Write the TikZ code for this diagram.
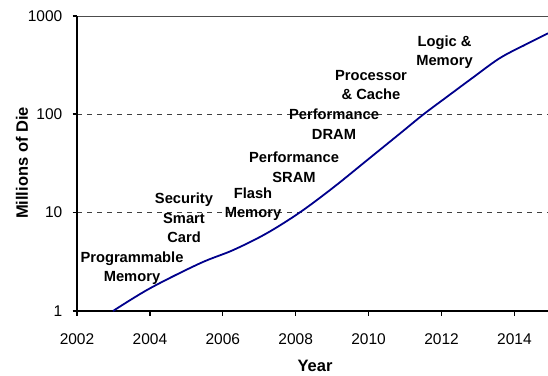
\documentclass[tikz,border=0pt]{standalone}
\usepackage{fontspec}
\setmainfont{Liberation Sans}
\begin{document}
\begin{tikzpicture}[x=1pt,y=-1pt,
  ticklab/.style={font=\fontsize{15.5}{18}\selectfont, inner sep=0pt},
  lbl/.style={font=\fontsize{14.7}{19.5}\selectfont\bfseries, align=center, inner sep=0pt},
  axtitle/.style={font=\fontsize{16.5}{19}\selectfont\bfseries, inner sep=0pt},
  grid/.style={draw=black!75, line width=0.9pt, dash pattern=on 5pt off 5pt},
  axis/.style={draw=black, line width=1.3pt},
  curve/.style={draw={rgb,255:red,0;green,0;blue,140}, line width=1.8pt}]
\useasboundingbox (0,0) rectangle (548,375);
% gridlines
\draw[draw=black!70, line width=1pt] (77,16) -- (548,16);
\draw[grid] (77,114) -- (548,114);
\draw[grid] (77,212.5) -- (548,212.5);
% axes
\draw[axis] (77,16) -- (77,311) -- (548,311);
\foreach \y in {16,114,212.5,311} \draw[axis] (72.5,\y) -- (77,\y);
\foreach \x in {77,149.9,222.8,295.7,368.6,441.5,514.4} \draw[axis] (\x,311) -- (\x,316);
% tick labels
\node[ticklab, anchor=east] (y1000) at (62.5,16) {1000};
\node[ticklab, anchor=east] (y100) at (62.5,114) {100};
\node[ticklab, anchor=east] (y10) at (62.5,212.5) {10};
\node[ticklab, anchor=east] (y1) at (62.5,311) {1};
\node[ticklab] (x2002) at (77,339) {2002};
\node[ticklab] (x2004) at (149.9,339) {2004};
\node[ticklab] (x2006) at (222.8,339) {2006};
\node[ticklab] (x2008) at (295.7,339) {2008};
\node[ticklab] (x2010) at (368.6,339) {2010};
\node[ticklab] (x2012) at (441.5,339) {2012};
\node[ticklab] (x2014) at (514.4,339) {2014};
% axis titles
\node[axtitle] (xt) at (315,366) {Year};
\node[axtitle, rotate=90] (yt) at (22,163) {Millions of Die};
% curve
\draw[curve] plot[smooth, tension=0.55] coordinates {(113,311) (150,288.3) (200,263.3) (233.3,250) (266.7,233.3) (300,212.3) (333.3,187.5) (366.7,160.5) (400,133.5) (423.3,114.5) (446.7,97) (473,77.5) (500,58) (526.7,44) (548,33.3)};
% labels
\node[lbl] (pm) at (132,268) {Programmable\\Memory};
\node[lbl] (ssc) at (184,218) {Security\\Smart\\Card};
\node[lbl] (fm) at (253,204) {Flash\\Memory};
\node[lbl] (ps) at (294,167) {Performance\\SRAM};
\node[lbl] (pd) at (334,124) {Performance\\DRAM};
\node[lbl] (pc) at (371,85) {Processor\\\& Cache};
\node[lbl] (lm) at (444.5,52) {Logic \&\\Memory};
\end{tikzpicture}
\end{document}
